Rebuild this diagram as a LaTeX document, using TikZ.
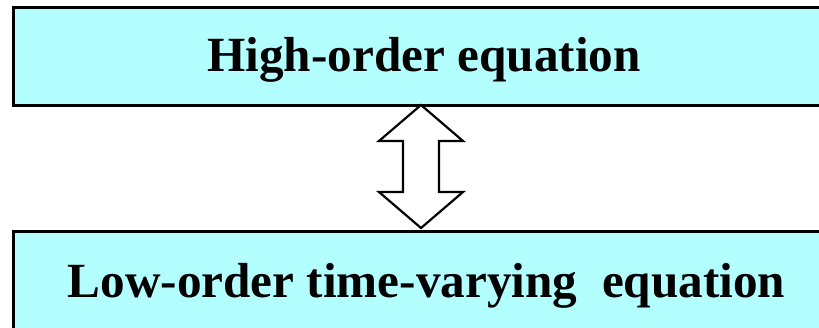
\documentclass[tikz,border=0pt]{standalone}
\usepackage{fontspec}
\setmainfont{Liberation Serif}
\definecolor{boxcyan}{HTML}{B3FFFF}
\begin{document}
\begin{tikzpicture}[x=1pt,y=1pt,
  eqbox/.style={draw=black,line width=3pt,fill=boxcyan},
  eqtext/.style={font=\bfseries\fontsize{49.2}{52}\selectfont,anchor=base,inner sep=0pt},
  dblarrow/.style={draw=black,line width=2.2pt,fill=white,line join=miter}]
\useasboundingbox (0,0) rectangle (819,327);
\clip (0,0) rectangle (819,327);
\draw[eqbox] (13,319) rectangle (840,221);
\draw[eqbox] (13,96) rectangle (840,-20);
\node[eqtext] (top) at (424,255) {High-order equation};
\node[eqtext] (bot) at (426.5,30) {Low-order time-varying\ \ equation};
\coordinate (tip1) at (421,222);
\coordinate (tip2) at (421,99);
\draw[dblarrow] (tip1) -- (463,186) -- (439,186) -- (439,135) -- (463,135) -- (tip2)
  -- (379,135) -- (403,135) -- (403,186) -- (379,186) -- cycle;
\end{tikzpicture}
\end{document}
